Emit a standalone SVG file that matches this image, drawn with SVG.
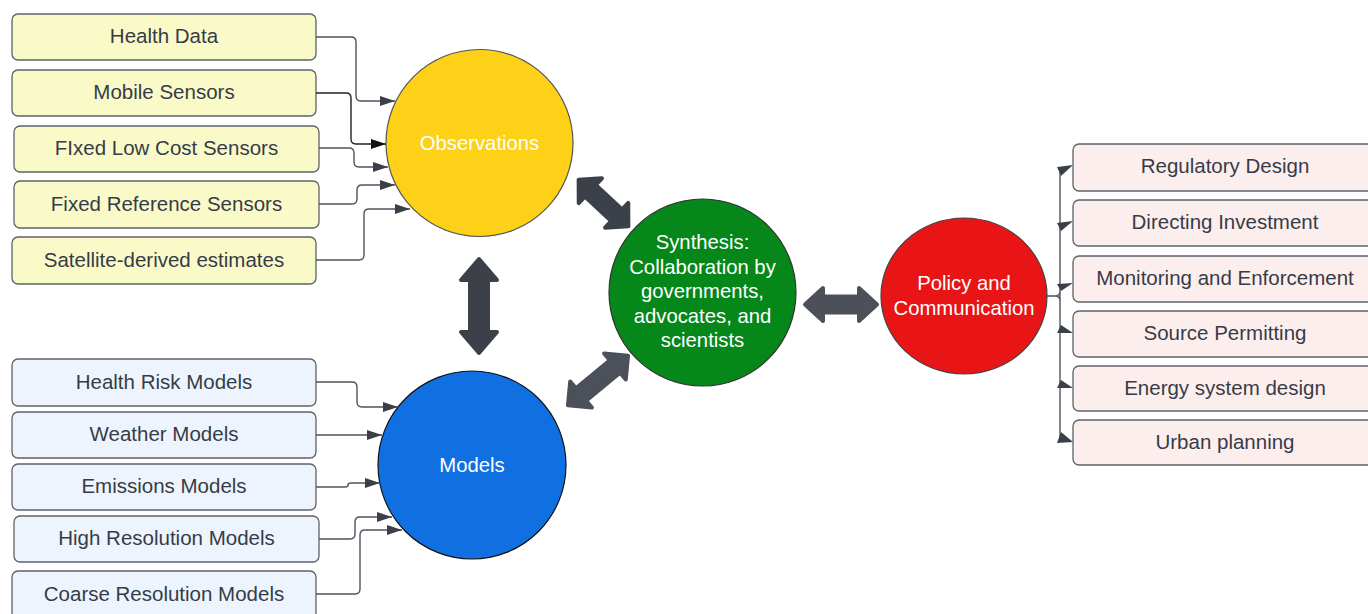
<svg xmlns="http://www.w3.org/2000/svg" width="1368" height="614" viewBox="0 0 1368 614">
  <style>
    .lbl { font-family: "Liberation Sans", Arial, sans-serif; font-size: 20.5px; fill: #363c47; text-anchor: middle; }
    .wlbl { font-family: "Liberation Sans", Arial, sans-serif; font-size: 20.3px; fill: #ffffff; text-anchor: middle; }
    .box { stroke: #5e6269; stroke-width: 1.3; }
    .obs { fill: #fafac9; }
    .mod { fill: #edf4fe; }
    .pol { fill: #fdeeee; }
    .conn { fill: none; stroke: #4e545e; stroke-width: 1.4; }
    .block { stroke-width: 4; stroke-linejoin: round; }
    .dark { fill: #3b4049; stroke: #3b4049; }
    .mid { fill: #4b5059; stroke: #4b5059; }
    .tip { fill: #3a3f48; }
  </style>
  <defs>
    <marker id="arrow" markerUnits="userSpaceOnUse" markerWidth="15" markerHeight="10" refX="15" refY="5" orient="auto">
      <path d="M0,0 L15,5 L0,10 Z" fill="#3a3f48"/>
    </marker>
    <marker id="arrowBlack" markerUnits="userSpaceOnUse" markerWidth="15" markerHeight="10" refX="15" refY="5" orient="auto">
      <path d="M0,0 L15,5 L0,10 Z" fill="#111111"/>
    </marker>
  </defs>

  <rect width="1368" height="614" fill="#ffffff"/>

  <!-- observation inputs -->
  <g id="health-data"><rect class="box obs" x="12" y="14" width="304" height="46" rx="6"/><text class="lbl" x="164" y="43">Health Data</text></g>
  <g id="mobile-sensors"><rect class="box obs" x="12" y="70" width="304" height="46" rx="6"/><text class="lbl" x="164" y="99">Mobile Sensors</text></g>
  <g id="fixed-low-cost"><rect class="box obs" x="14" y="126" width="305" height="46" rx="6"/><text class="lbl" x="166.5" y="155">FIxed Low Cost Sensors</text></g>
  <g id="fixed-reference"><rect class="box obs" x="14" y="181" width="305" height="47" rx="6"/><text class="lbl" x="166.5" y="211">Fixed Reference Sensors</text></g>
  <g id="satellite"><rect class="box obs" x="12" y="237" width="304" height="47" rx="6"/><text class="lbl" x="164" y="267">Satellite-derived estimates</text></g>

  <!-- model inputs -->
  <g id="health-risk"><rect class="box mod" x="12" y="359" width="304" height="47" rx="6"/><text class="lbl" x="164" y="389">Health Risk Models</text></g>
  <g id="weather"><rect class="box mod" x="12" y="412" width="304" height="46" rx="6"/><text class="lbl" x="164" y="441">Weather Models</text></g>
  <g id="emissions"><rect class="box mod" x="12" y="464" width="304" height="46" rx="6"/><text class="lbl" x="164" y="493">Emissions Models</text></g>
  <g id="high-res"><rect class="box mod" x="14" y="516" width="305" height="46" rx="6"/><text class="lbl" x="166.5" y="545">High Resolution Models</text></g>
  <g id="coarse-res"><rect class="box mod" x="12" y="571" width="304" height="50" rx="6"/><text class="lbl" x="164" y="601">Coarse Resolution Models</text></g>

  <!-- policy outputs -->
  <g id="regulatory"><rect class="box pol" x="1073" y="144" width="304" height="47" rx="6"/><text class="lbl" x="1225" y="173">Regulatory Design</text></g>
  <g id="investment"><rect class="box pol" x="1073" y="200" width="304" height="46" rx="6"/><text class="lbl" x="1225" y="229">Directing Investment</text></g>
  <g id="monitoring"><rect class="box pol" x="1073" y="256" width="304" height="46" rx="6"/><text class="lbl" x="1225" y="285">Monitoring and Enforcement</text></g>
  <g id="permitting"><rect class="box pol" x="1073" y="311" width="304" height="46" rx="6"/><text class="lbl" x="1225" y="340">Source Permitting</text></g>
  <g id="energy"><rect class="box pol" x="1073" y="366" width="304" height="45" rx="6"/><text class="lbl" x="1225" y="395">Energy system design</text></g>
  <g id="urban"><rect class="box pol" x="1073" y="420" width="304" height="45" rx="6"/><text class="lbl" x="1225" y="449">Urban planning</text></g>

  <!-- hubs -->
  <g id="observations">
    <circle cx="479.5" cy="143" r="93.5" fill="#fcd118" stroke="#555" stroke-width="1.2"/>
    <text class="wlbl" x="479.5" y="150">Observations</text>
  </g>
  <g id="models">
    <circle cx="472" cy="465" r="94" fill="#1070e2" stroke="#111" stroke-width="1.2"/>
    <text class="wlbl" x="472" y="472">Models</text>
  </g>
  <g id="synthesis">
    <circle cx="702.5" cy="292.5" r="93.5" fill="#05871a" stroke="#333" stroke-width="1.2"/>
    <text class="wlbl" x="702.5" y="249">Synthesis:</text>
    <text class="wlbl" x="702.5" y="274">Collaboration by</text>
    <text class="wlbl" x="702.5" y="298">governments,</text>
    <text class="wlbl" x="702.5" y="323">advocates, and</text>
    <text class="wlbl" x="702.5" y="347">scientists</text>
  </g>
  <g id="policy">
    <ellipse cx="964" cy="296" rx="83" ry="78" fill="#e81416" stroke="#444" stroke-width="1.2"/>
    <text class="wlbl" x="964" y="290">Policy and</text>
    <text class="wlbl" x="964" y="315">Communication</text>
  </g>

  <g id="connectors">
    <!-- into Observations -->
    <path class="conn" marker-end="url(#arrow)" d="M316,37 H351 Q356,37 356,42 V96 Q356,101 361,101 H395"/>
    <path class="conn" style="stroke:#222" marker-end="url(#arrowBlack)" d="M316,93 H346 Q351,93 351,98 V139 Q351,144 356,144 H386"/>
    <path class="conn" marker-end="url(#arrow)" d="M319,148 H349 Q354,148 354,153 V162 Q354,167 359,167 H388"/>
    <path class="conn" marker-end="url(#arrow)" d="M319,204 H352 Q357,204 357,199 V190 Q357,185 362,185 H395"/>
    <path class="conn" marker-end="url(#arrow)" d="M316,260 H359 Q364,260 364,255 V214 Q364,209 369,209 H410"/>

    <!-- into Models -->
    <path class="conn" marker-end="url(#arrow)" d="M316,382 H352 Q357,382 357,387 V402 Q357,407 362,407 H398"/>
    <path class="conn" marker-end="url(#arrow)" d="M316,435 H382"/>
    <path class="conn" marker-end="url(#arrow)" d="M316,487 H345 Q348,487 348,485 Q348,483 351,483 H380"/>
    <path class="conn" marker-end="url(#arrow)" d="M319,539 H350 Q355,539 355,534 V522 Q355,517 360,517 H392"/>
    <path class="conn" marker-end="url(#arrow)" d="M316,594 H355 Q360,594 360,589 V535 Q360,530 365,530 H402"/>

    <!-- Policy fan-out -->
    <path class="conn" d="M1047,296 H1055 Q1060,296 1060,291 M1055,296 Q1060,296 1060,301 M1060,168 V440"/>
    <polygon class="tip" points="1057,167 1073,165 1061,176"/>
    <polygon class="tip" points="1057,223 1073,221 1061,231"/>
    <polygon class="tip" points="1057,284 1073,283 1061,291"/>
    <polygon class="tip" points="1061,325 1057,333 1073,333"/>
    <polygon class="tip" points="1061,380 1057,388 1073,388"/>
    <polygon class="tip" points="1061,432 1057,443 1073,442"/>

    <!-- two-way block arrows between hubs -->
    <path class="block dark" transform="translate(479,306) rotate(90)" d="M-47,0 L-26,-18 L-26,-9 L26,-9 L26,-18 L47,0 L26,18 L26,9 L-26,9 L-26,18 Z"/>
    <path class="block mid" transform="translate(841,304.5)" d="M-36,0 L-18,-16.5 L-18,-8 L18,-8 L18,-16.5 L36,0 L18,16.5 L18,8 L-18,8 L-18,16.5 Z"/>
    <path class="block dark" transform="translate(603.5,203) rotate(43)" d="M-34,0 L-18,-17 L-18,-8 L18,-8 L18,-17 L34,0 L18,17 L18,8 L-18,8 L-18,17 Z"/>
    <path class="block mid" transform="translate(598,380.5) rotate(-39.6)" d="M-39,0 L-22,-17 L-22,-8 L22,-8 L22,-17 L39,0 L22,17 L22,8 L-22,8 L-22,17 Z"/>
  </g>
</svg>
